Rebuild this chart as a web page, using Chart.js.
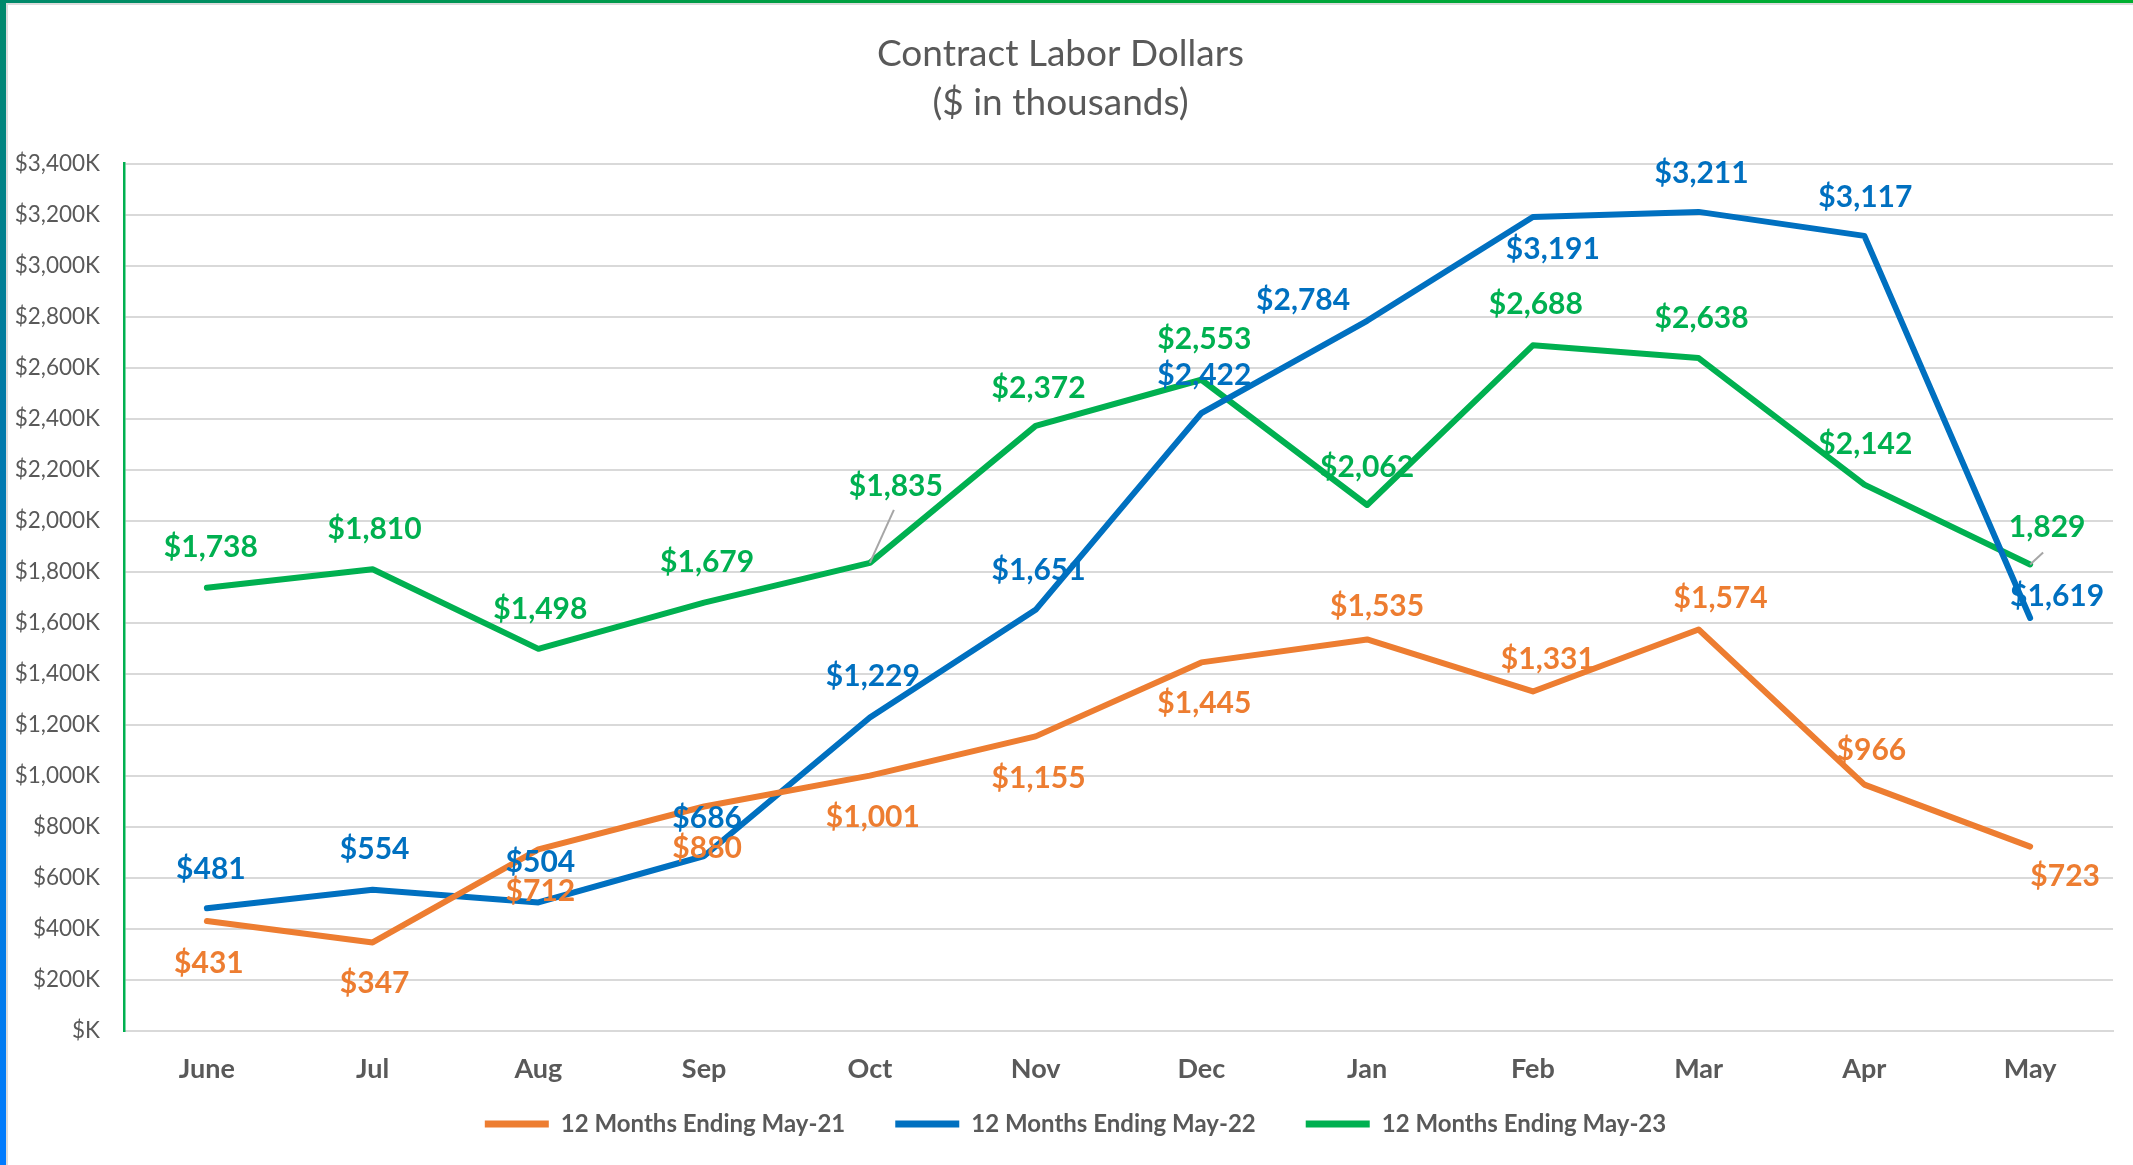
<!DOCTYPE html>
<html>
<head>
<meta charset="utf-8">
<script src="https://cdn.jsdelivr.net/npm/chart.js@4.4.0/dist/chart.umd.min.js"></script>
<style>
  html, body { margin: 0; padding: 0; background: #fff; }
  #wrap { position: relative; width: 2133px; height: 1165px; overflow: hidden; background: #fff; }
  #chart { position: absolute; left: 0; top: 0; }
  .edge-left { position: absolute; left: 0; top: 0; width: 6px; height: 1165px;
    background: linear-gradient(#00896b, #0079a8 35%, #007bff); }
  .edge-top { position: absolute; left: 0; top: 0; width: 2133px; height: 3px;
    background: linear-gradient(to right, #00896b, #00a040 40%, #00b030); }
  .inner-left { position: absolute; left: 6px; top: 3px; width: 2px; height: 1162px; background: #dcdcdc; }
  .inner-top { position: absolute; left: 6px; top: 3px; width: 2127px; height: 2px; background: #dcdcdc; }
</style>
</head>
<body>
<div id="wrap">
  <canvas id="chart" width="2133" height="1165"></canvas>
  <div class="inner-left"></div>
  <div class="inner-top"></div>
  <div class="edge-left"></div>
  <div class="edge-top"></div>
</div>
<script>
// Month categories (June through May)
var months = ['June', 'Jul', 'Aug', 'Sep', 'Oct', 'Nov', 'Dec', 'Jan', 'Feb', 'Mar', 'Apr', 'May'];

// Contract labor dollars, $ in thousands
var endingMay21 = [431, 347, 712, 880, 1001, 1155, 1445, 1535, 1331, 1574, 966, 723];
var endingMay22 = [481, 554, 504, 686, 1229, 1651, 2422, 2784, 3191, 3211, 3117, 1619];
var endingMay23 = [1738, 1810, 1498, 1679, 1835, 2372, 2553, 2062, 2688, 2638, 2142, 1829];

var seriesNames = ['12 Months Ending May-21', '12 Months Ending May-22', '12 Months Ending May-23'];

// y axis ticks ($K)
var yMin = 0, yMax = 3400, yStep = 200;

// where each data label sits relative to its point (pixels) - layout only
var labelOffsets = [
    [[2, 42], [2, 41], [2, 42], [3, 42], [3, 42], [3, 42], [3, 41], [10, -33], [15, -32], [22, -31], [7, -34], [35, 30]],
    [[4, -39], [2, -40], [2, -40], [3, -38], [3, -41], [3, -40], [3, -38], [-64, -20], [20, 32], [3, -39], [1, -39], [27, -22]],
    [[4, -40], [2, -40], [2, -40], [3, -40], [26, -77, 24, -53], [3, -38], [3, -40], [0, -38], [3, -41], [3, -40], [1, -40], [17, -37, 13, -12]]
];
// the last green label has no $ sign in the original
var noDollar = [[], [], [11]];

var colors = ['#ED7D31', '#0070C0', '#00B050'];
var FONT = 'Lato, "Open Sans", sans-serif';

// draws value labels next to each point
var pointLabels = {
    id: 'pointLabels',
    afterLayout: function (chart) {
        // let the month labels draw below the squeezed x axis box
        chart.scales.x.bottom = chart.height;
        // nudge legend to sit centred like the original
        chart.legend.left += 15;
        chart.legend.right += 15;
    },
    afterDatasetsDraw: function (chart) {
        var ctx = chart.ctx;
        ctx.save();
        ctx.font = 'bold 30px ' + FONT;
        ctx.textAlign = 'center';
        ctx.textBaseline = 'middle';
        chart.data.datasets.forEach(function (ds, di) {
            var meta = chart.getDatasetMeta(di);
            meta.data.forEach(function (pt, i) {
                var off = labelOffsets[di][i];
                if (off.length > 2) {
                    // leader line
                    ctx.strokeStyle = '#a6a6a6';
                    ctx.lineWidth = 2;
                    ctx.beginPath();
                    ctx.moveTo(pt.x, pt.y);
                    ctx.lineTo(pt.x + off[2], pt.y + off[3]);
                    ctx.stroke();
                }
                var v = ds.data[i].toLocaleString('en-US');
                var txt = noDollar[di].indexOf(i) >= 0 ? v : '$' + v;
                ctx.fillStyle = ds.borderColor;
                ctx.fillText(txt, pt.x + off[0], pt.y + off[1]);
            });
        });
        ctx.restore();
    }
};

function makeSet(name, values, color) {
    return {
        label: name,
        data: values,
        borderColor: color,
        backgroundColor: color,
        borderWidth: 6,
        pointRadius: 0,
        tension: 0,
        borderJoinStyle: 'round',
        borderCapStyle: 'round'
    };
}

var ctx = document.getElementById('chart').getContext('2d');
var chart = new Chart(ctx, {
    type: 'line',
    data: {
        labels: months,
        datasets: [
            makeSet(seriesNames[0], endingMay21, colors[0]),
            makeSet(seriesNames[1], endingMay22, colors[1]),
            makeSet(seriesNames[2], endingMay23, colors[2])
        ]
    },
    options: {
        responsive: false,
        animation: false,
        layout: { padding: { left: 8, right: 20, top: 0, bottom: 19 } },
        plugins: {
            tooltip: { enabled: false },
            title: {
                display: true,
                text: ['Contract Labor Dollars', '($ in thousands)'],
                color: '#595959',
                font: { family: FONT, size: 37, weight: 'normal', lineHeight: 1.32 },
                padding: { top: 30, bottom: 36 }
            },
            legend: {
                position: 'bottom',
                labels: {
                    color: '#595959',
                    font: { family: FONT, size: 24, weight: 'bold' },
                    boxWidth: 64,
                    boxHeight: 7,
                    padding: 50,
                    generateLabels: function (c) {
                        return c.data.datasets.map(function (ds, i) {
                            return {
                                text: ds.label,
                                fillStyle: ds.borderColor,
                                strokeStyle: ds.borderColor,
                                lineWidth: 0,
                                fontColor: '#595959',
                                datasetIndex: i
                            };
                        });
                    }
                }
            }
        },
        scales: {
            x: {
                offset: true,
                afterFit: function (scale) { scale.height = 31; },
                grid: { display: false, drawTicks: false },
                border: { display: true, color: '#d9d9d9', width: 2 },
                ticks: {
                    color: '#595959',
                    padding: 22,
                    font: { family: FONT, size: 27, weight: 'bold' }
                }
            },
            y: {
                min: yMin,
                max: yMax,
                afterFit: function (scale) { scale.width = 116; },
                grid: { color: '#d9d9d9', lineWidth: 2, drawTicks: false },
                border: { display: true, color: '#00B050', width: 2.5 },
                ticks: {
                    stepSize: yStep,
                    color: '#595959',
                    padding: 24,
                    font: { family: FONT, size: 22.5 },
                    callback: function (v) {
                        return v === 0 ? '$K' : '$' + v.toLocaleString('en-US') + 'K';
                    }
                }
            }
        }
    },
    plugins: [pointLabels]
});
</script>
</body>
</html>
